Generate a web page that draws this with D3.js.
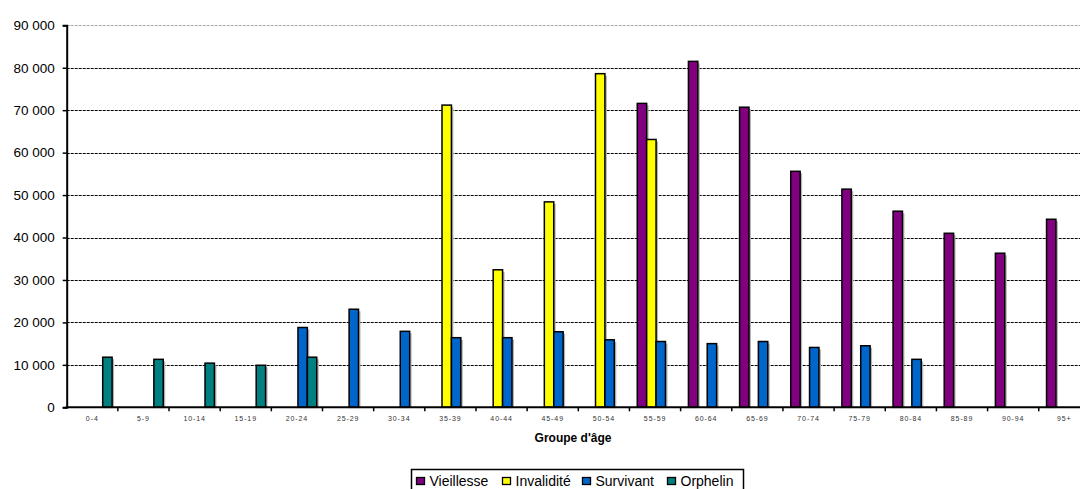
<!DOCTYPE html>
<html>
<head>
<meta charset="utf-8">
<script src="https://cdn.jsdelivr.net/npm/d3@7"></script>
<style>
  html, body { margin: 0; padding: 0; background: #fff; }
  svg { display: block; font-family: "Liberation Sans", Arial, sans-serif; }
</style>
</head>
<body>
<svg id="chart" width="1080" height="489"></svg>
<script>
// Age groups
const categories = ["0-4","5-9","10-14","15-19","20-24","25-29","30-34","35-39","40-44","45-49",
  "50-54","55-59","60-64","65-69","70-74","75-79","80-84","85-89","90-94","95+"];

// Beneficiaries by benefit type (null = no bar)
const vieillesse = [null,null,null,null,null,null,null,null,null,null,
  null,71600,81500,70700,55600,51400,46200,41000,36300,44300];
const invalidite = [null,null,null,null,null,null,null,71200,32400,48400,
  78600,63100,null,null,null,null,null,null,null,null];
const survivant = [null,null,null,null,18800,23100,17900,16400,16400,17800,
  15900,15500,15000,15500,14100,14500,11300,null,null,null];
const orphelin = [11800,11300,10400,9900,11800,null,null,null,null,null,
  null,null,null,null,null,null,null,null,null,null];

const seriesNames = ["Vieillesse","Invalidité","Survivant","Orphelin"];
const seriesValues = [vieillesse, invalidite, survivant, orphelin];
const seriesColors = ["#800080","#FFFF00","#0066CC","#008080"];

const yTicks = [0,10000,20000,30000,40000,50000,60000,70000,80000,90000];

const svg = d3.select("#chart");
const plotLeft = 66.7, bandW = 51.16, plotTop = 25.3, plotBottom = 407.3, rightEdge = 1080;

const x = d3.scaleBand().domain(categories).range([plotLeft, plotLeft + bandW * categories.length]).padding(0);
const x1 = d3.scaleBand().domain(seriesNames)
  .range([x.bandwidth() * 0.1525, x.bandwidth() * 0.8875]).padding(0);
const y = d3.scaleLinear().domain([0, 90000]).range([plotBottom, plotTop]);

const fmt = v => d3.format(",")(v).replace(/,/g, " ");

// Gridlines
svg.append("g").selectAll("line")
  .data(yTicks.filter(t => t > 0))
  .join("line")
  .attr("x1", plotLeft).attr("x2", rightEdge)
  .attr("y1", d => Math.round(y(d)) + 0.5).attr("y2", d => Math.round(y(d)) + 0.5)
  .attr("stroke", d => d === 90000 ? "#aaa" : "#000")
  .attr("stroke-width", 1)
  .attr("stroke-dasharray", "3,1");

// Bars
const barData = [];
seriesNames.forEach((s, si) => {
  categories.forEach((c, ci) => {
    const v = seriesValues[si][ci];
    if (v != null) barData.push({ s, c, v, color: seriesColors[si] });
  });
});

const gBars = svg.append("g");
gBars.selectAll("rect.shadow")
  .data(barData).join("rect").attr("class", "shadow")
  .attr("x", d => x(d.c) + x1(d.s) + 2)
  .attr("y", d => y(d.v) + 2)
  .attr("width", x1.bandwidth())
  .attr("height", d => plotBottom - y(d.v) - 2)
  .attr("fill", "#b4b4b4");
gBars.selectAll("rect.bar")
  .data(barData).join("rect").attr("class", "bar")
  .attr("x", d => x(d.c) + x1(d.s))
  .attr("y", d => y(d.v))
  .attr("width", x1.bandwidth())
  .attr("height", d => plotBottom - y(d.v))
  .attr("fill", d => d.color)
  .attr("stroke", "#000")
  .attr("stroke-width", 1.5);

// Y axis
const yAxis = d3.axisLeft(y).tickValues(yTicks).tickFormat(fmt).tickSize(4).tickPadding(8);
const gy = svg.append("g").attr("transform", `translate(${plotLeft},0)`).call(yAxis);
gy.select(".domain").attr("stroke", "#000").attr("stroke-width", 2);
gy.selectAll(".tick line").attr("stroke", "#000").attr("stroke-width", 1.5);
gy.selectAll(".tick text").attr("font-size", 13.5).attr("fill", "#000")
  .attr("font-family", "Liberation Sans, Arial, sans-serif");

// X axis
const xAxis = d3.axisBottom(x).tickSize(0).tickPadding(9);
const gx = svg.append("g").attr("transform", `translate(0,${plotBottom})`).call(xAxis);
gx.select(".domain").remove();
gx.append("line").attr("x1", plotLeft - 1).attr("x2", rightEdge).attr("y1", 0).attr("y2", 0)
  .attr("stroke", "#000").attr("stroke-width", 2);
gx.selectAll(".tick text").attr("font-size", 7).attr("fill", "#333")
  .attr("letter-spacing", 0.9)
  .attr("font-family", "Liberation Sans, Arial, sans-serif");
// category boundary ticks
gx.append("g").selectAll("line")
  .data(categories.slice(1))
  .join("line")
  .attr("x1", d => x(d)).attr("x2", d => x(d))
  .attr("y1", 0).attr("y2", 4)
  .attr("stroke", "#000").attr("stroke-width", 1.5);

// Axis title
svg.append("text")
  .attr("x", 573).attr("y", 442)
  .attr("text-anchor", "middle")
  .attr("font-size", 12).attr("font-weight", "bold")
  .text("Groupe d'âge");

// Legend
const lg = svg.append("g");
lg.append("rect").attr("x", 411.5).attr("y", 469.5).attr("width", 332).attr("height", 30)
  .attr("fill", "#fff").attr("stroke", "#000").attr("stroke-width", 1.5);
const legendX = [416.5, 502.5, 582.5, 667.5];
seriesNames.forEach((s, i) => {
  lg.append("rect").attr("x", legendX[i]).attr("y", 477.5).attr("width", 8).attr("height", 7)
    .attr("fill", seriesColors[i]).attr("stroke", "#000").attr("stroke-width", 1.3);
  lg.append("text").attr("x", legendX[i] + 13).attr("y", 486)
    .attr("font-size", 14).attr("fill", "#000").text(s);
});
</script>
</body>
</html>
